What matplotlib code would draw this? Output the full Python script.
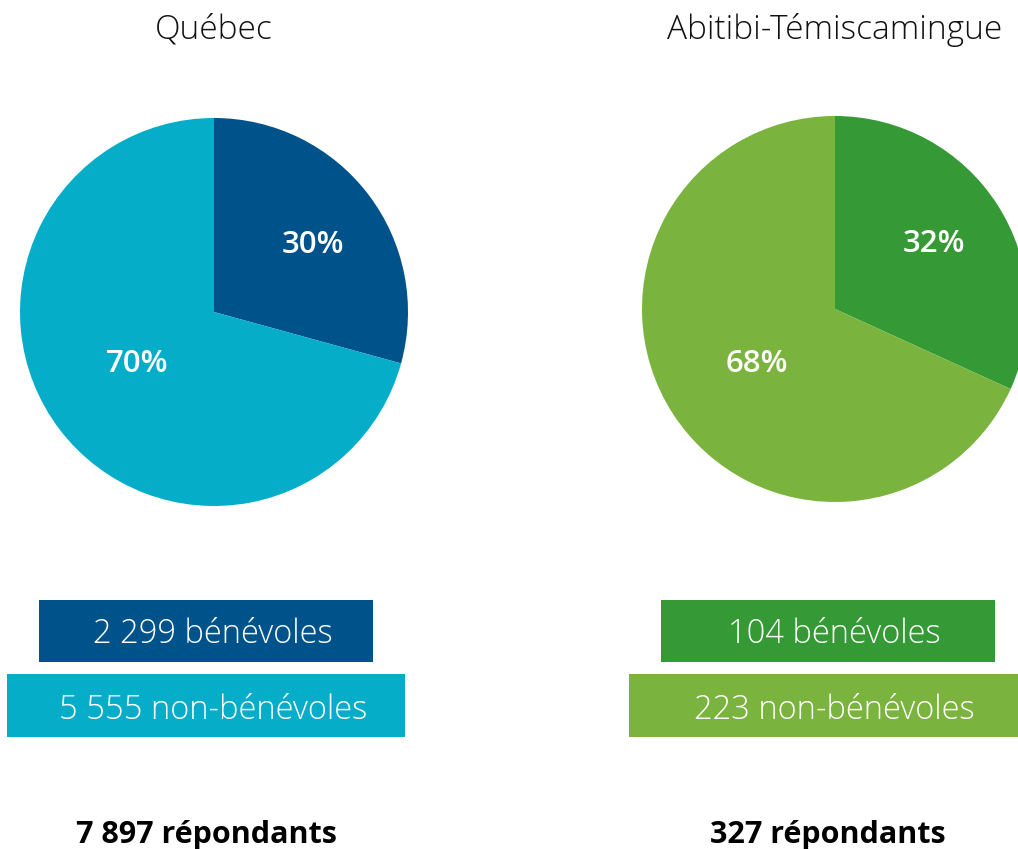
import matplotlib.pyplot as plt
from matplotlib.patches import Rectangle
import numpy as np

plt.rcParams['font.family'] = ['Open Sans', 'DejaVu Sans']

# Données
regions = ['Québec', 'Abitibi-Témiscamingue']
benevoles = [2299, 104]
non_benevoles = [5555, 223]
pct_benevoles = ['30%', '32%']
pct_non_benevoles = ['70%', '68%']
repondants = [7897, 327]

couleurs_fonce = ['#00538a', '#359a35']
couleurs_clair = ['#06adc8', '#7ab33e']

W, H = 1018, 849
fig = plt.figure(figsize=(W / 100, H / 100), dpi=100)
ax = fig.add_axes([0, 0, 1, 1])

def fmt(n):
    return f'{n:,}'.replace(',', ' ')

# mise en page (pixels, y vers le haut)
centres_pie = [(214, H - 312), (835, H - 309)]
rayons = [194, 193]
centres_bloc = [206, 828]
# position des étiquettes : (distance relative, décalage angulaire)
pos_etiq = [[(0.615, -3), (0.48, -3)], [(0.613, 0.5), (0.494, 2.4)]]

for i in range(2):
    cx, cy = centres_pie[i]
    r = rayons[i]
    valeurs = [benevoles[i], non_benevoles[i]]
    wedges, _ = ax.pie(valeurs, colors=[couleurs_fonce[i], couleurs_clair[i]],
                       startangle=90, counterclock=False, center=(cx, cy),
                       radius=r, frame=True)

    etiquettes = [pct_benevoles[i], pct_non_benevoles[i]]
    for w, lab, (d, da) in zip(wedges, etiquettes, pos_etiq[i]):
        ang = np.deg2rad((w.theta1 + w.theta2) / 2 + da)
        ax.text(cx + d * r * np.cos(ang), cy + d * r * np.sin(ang), lab,
                ha='center', va='center', color='white', fontsize=22.5,
                fontweight='semibold')

    ax.text(cx, H - 30, regions[i], ha='center', va='center', fontsize=24,
            fontweight='light', color='#111111')

    bx = centres_bloc[i]
    ax.add_patch(Rectangle((bx - 167, H - 662), 334, 62,
                           color=couleurs_fonce[i], lw=0))
    ax.add_patch(Rectangle((bx - 199, H - 737), 398, 63,
                           color=couleurs_clair[i], lw=0))
    ax.text(cx - 1, H - 634, f'{fmt(benevoles[i])} bénévoles', ha='center',
            va='center', color='white', fontsize=23.5, fontweight='light')
    ax.text(cx - 1, H - 710, f'{fmt(non_benevoles[i])} non-bénévoles',
            ha='center', va='center', color='white', fontsize=23.5,
            fontweight='light')

    ax.text(bx, H - 835, f'{fmt(repondants[i])} répondants', ha='center',
            va='center', color='black', fontsize=22, fontweight='bold')

ax.set_xlim(0, W)
ax.set_ylim(0, H)
ax.set_aspect('auto')
ax.axis('off')

fig.savefig('out.png', dpi=100)
